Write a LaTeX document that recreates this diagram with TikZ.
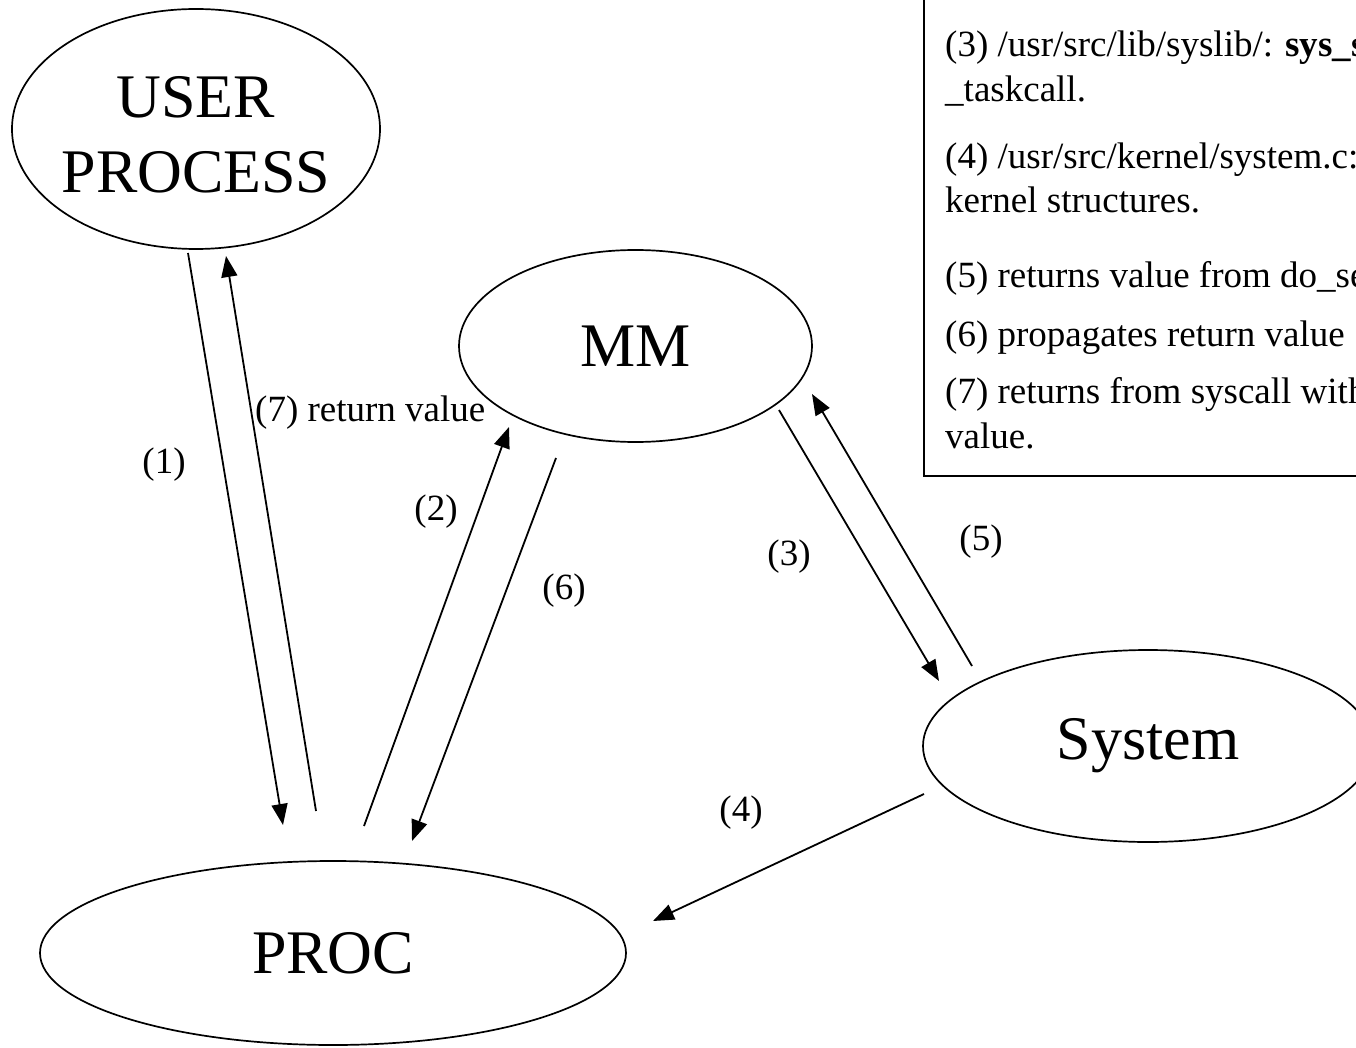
\documentclass[tikz,border=0pt]{standalone}
\usepackage{fontspec}
\setmainfont{Liberation Serif}
\usetikzlibrary{shapes.geometric,arrows.meta}
\begin{document}
\begin{tikzpicture}[x=1pt,y=-1pt,
  proc/.style={ellipse, draw, line width=1.7pt, inner sep=0pt,
    font=\fontsize{62}{75}\selectfont, align=center},
  flow/.style={line width=1.8pt, -{Triangle[length=21pt,width=16pt]}},
  lbl/.style={font=\fontsize{37}{44}\selectfont, inner sep=0pt},
  note/.style={font=\fontsize{37}{44}\selectfont, inner sep=0pt, anchor=base west}]
\useasboundingbox (0,0) rectangle (1356,1048);
\clip (0,0) rectangle (1356,1048);

% processes
\node[proc, minimum width=368pt, minimum height=240pt] (user) at (196,129) {};
\node[font=\fontsize{62}{75}\selectfont, align=center, inner sep=0pt] (usertxt) at (196,135) {USER\\PROCESS};
\node[proc, minimum width=353pt, minimum height=192pt] (mm) at (635.5,346) {MM};
\node[proc, minimum width=450pt, minimum height=192pt] (sys) at (1148,746) {System};
\node[proc, minimum width=586pt, minimum height=184pt] (proc) at (333,953) {PROC};

% message end points
\coordinate (u1) at (188,253);  \coordinate (p1) at (283,825);
\coordinate (p7) at (316,811);  \coordinate (u7) at (226,256);
\coordinate (p2) at (364,826);  \coordinate (m2) at (509,427);
\coordinate (m6) at (556,458);  \coordinate (p6) at (412,841);
\coordinate (m3) at (779,410);  \coordinate (s3) at (939,681);
\coordinate (s5) at (972,666);  \coordinate (m5) at (812,394);
\coordinate (s4) at (924,794);  \coordinate (p4) at (653,921);

\draw[flow] (u1) -- (p1);
\draw[flow] (p7) -- (u7);
\draw[flow] (p2) -- (m2);
\draw[flow] (m6) -- (p6);
\draw[flow] (m3) -- (s3);
\draw[flow] (s5) -- (m5);
\draw[flow] (s4) -- (p4);

% step labels
\node[lbl] (l1) at (164,465) {(1)};
\node[lbl, anchor=west] (l7) at (255,413) {(7) return value};
\node[lbl] (l2) at (436,512) {(2)};
\node[lbl] (l6) at (564,591) {(6)};
\node[lbl] (l3) at (789,557) {(3)};
\node[lbl] (l5) at (981,542) {(5)};
\node[lbl] (l4) at (741,813) {(4)};

% legend box
\node[draw, line width=2pt, inner sep=0pt, minimum width=600pt, minimum height=540pt,
  anchor=south west] (notes) at (923,477) {};
\node[note] (n3) at (945,57) {(3) /usr/src/lib/syslib/: \textbf{sys\_s}};
\node[note] (n3b) at (945,102) {\_taskcall.};
\node[note] (n4) at (945,169) {(4) /usr/src/kernel/system.c:};
\node[note] (n4b) at (945,213) {kernel structures.};
\node[note] (n5) at (945,288) {(5) returns value from do\_se};
\node[note] (n6) at (945,346) {(6) propagates return value};
\node[note] (n7) at (945,403) {(7) returns from syscall with};
\node[note] (n7b) at (945,448) {value.};
\end{tikzpicture}
\end{document}
